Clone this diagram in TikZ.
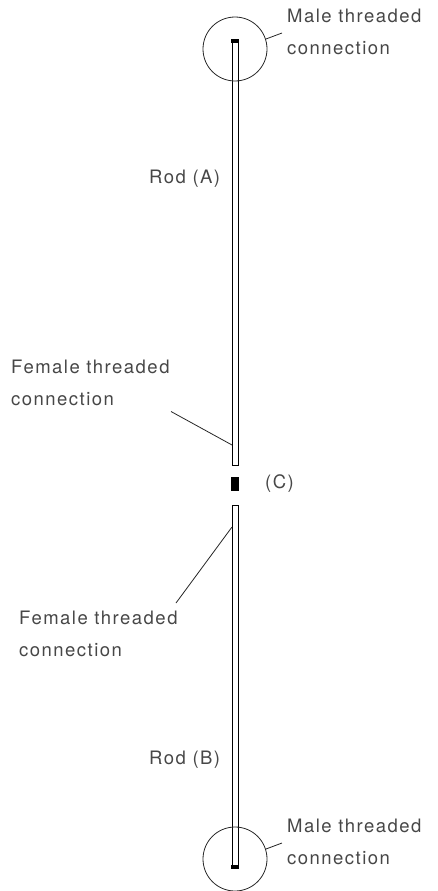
\documentclass[tikz,border=0pt]{standalone}
\usepackage{fontspec}
\setmainfont[LetterSpace=8]{TeX Gyre Heros}
\usepackage{tikz}
\tikzset{
  lbl/.style={inner sep=0pt,text=black!72,align=left,font=\fontsize{18.5}{32}\selectfont},
  leader/.style={draw=black!85,line width=.8pt},
  rod/.style={draw=black,line width=.9pt,fill=white,minimum width=6pt,inner sep=0pt},
  joint/.style={circle,draw=black!85,line width=.8pt,minimum size=64pt,inner sep=0pt},
  tip/.style={fill=black,inner sep=0pt}
}
\begin{document}
\begin{tikzpicture}[x=1pt,y=-1pt]
\useasboundingbox (0,0) rectangle (437,891);
\node[rod,minimum height=424pt] (rodA) at (235,253) {};
\node[rod,minimum height=362pt] (rodB) at (235,686) {};
\node[joint] (jointtop) at (235,49) {};
\node[joint] (jointbot) at (235,859) {};
\node[tip,minimum width=8pt,minimum height=4pt] (tiptop) at (235,41) {};
\node[tip,minimum width=8pt,minimum height=4pt] (tipbot) at (235,867) {};
\node[tip,minimum width=8pt,minimum height=14pt] (pin) at (235,484) {};
%
\node[lbl,anchor=west] (maletop) at (287,32) {Male threaded\\connection};
\node[lbl,anchor=west] (malebot) at (287,842) {Male threaded\\connection};
\node[lbl,anchor=west] (labA) at (149,178.5) {Rod (A)};
\node[lbl,anchor=west] (labB) at (149,759.5) {Rod (B)};
\node[lbl,anchor=west] (labC) at (265,484) {(C)};
\node[lbl,anchor=west] (femA) at (11,382.5) {Female threaded\\connection};
\node[lbl,anchor=west] (femB) at (19,633.5) {Female threaded\\connection};
%
\coordinate (a1) at (282,33);
\coordinate (a2) at (282,843);
\coordinate (a3) at (171,411.5);
\coordinate (a4) at (232,445);
\coordinate (a5) at (176,603);
\coordinate (a6) at (232,527);
\draw[leader] (jointtop) ++(31,-10) -- (a1);
\draw[leader] (jointbot) ++(31,-10) -- (a2);
\draw[leader] (a3) -- (a4);
\draw[leader] (a5) -- (a6);
\end{tikzpicture}
\end{document}
